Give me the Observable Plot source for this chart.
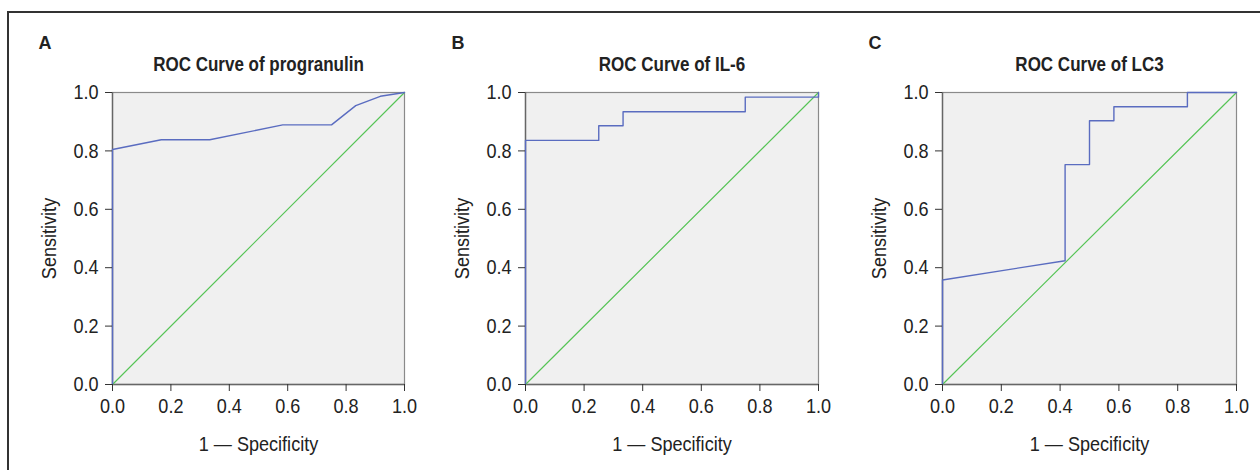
<!DOCTYPE html>
<html><head><meta charset="utf-8">
<script src="https://cdn.jsdelivr.net/npm/d3@7"></script>
<script src="https://cdn.jsdelivr.net/npm/@observablehq/plot@0.6"></script>
<style>
body{margin:0;background:#fff;}
#wrap{position:relative;width:1260px;height:470px;overflow:hidden;background:#fff;}
#border{position:absolute;left:7px;top:11px;width:1300px;height:500px;border-top:2px solid #333;border-left:2px solid #333;}
.panel{position:absolute;top:0;}
</style></head><body><div id="wrap"><div id="border"></div></div>
<script>
// ---- data ----
const ticks = [0, 0.2, 0.4, 0.6, 0.8, 1.0];
const panelLetters = ["A", "B", "C"];
const titles = ["ROC Curve of progranulin", "ROC Curve of IL-6", "ROC Curve of LC3"];
const xLabel = "1 \u2014 Specificity";
const yLabel = "Sensitivity";
const referenceLine = [0, 1];

const progranulinFPR = [0, 0, 0.167, 0.333, 0.583, 0.75, 0.833, 0.917, 1];
const progranulinTPR = [0, 0.805, 0.838, 0.838, 0.889, 0.889, 0.955, 0.987, 1];

const il6FPR = [0, 0, 0.25, 0.25, 0.333, 0.333, 0.75, 0.75, 1, 1];
const il6TPR = [0, 0.836, 0.836, 0.886, 0.886, 0.934, 0.934, 0.984, 0.984, 1];

const lc3FPR = [0, 0, 0.417, 0.417, 0.5, 0.5, 0.583, 0.583, 0.833, 0.833, 1];
const lc3TPR = [0, 0.358, 0.424, 0.753, 0.753, 0.903, 0.903, 0.951, 0.951, 1, 1];

const curves = [[progranulinFPR, progranulinTPR], [il6FPR, il6TPR], [lc3FPR, lc3TPR]];

// ---- layout ----
const FONT = '"Liberation Sans", Arial, sans-serif';
const NARROW = 0.86;       // emulate a condensed face for regular text
const NARROW_TITLE = 0.85; // and for the bold titles
const panelLeft = [0, 420, 840];
const mLeft = [112, 105, 102];
const mRight = [16, 22, 24];
const fmt = d3.format(".1f");
const wrap = document.getElementById("wrap");

curves.forEach(([fx, ty], i) => {
  const pts = fx.map((x, k) => ({x, y: ty[k]}));
  const diag = referenceLine.map(v => ({x: v, y: v}));
  const chart = Plot.plot({
    width: 420, height: 470,
    marginLeft: mLeft[i], marginRight: mRight[i], marginTop: 92, marginBottom: 86,
    style: {fontFamily: FONT, fontSize: "21px", background: "transparent", color: "#333"},
    x: {domain: [0, 1]},
    y: {domain: [0, 1]},
    marks: [
      Plot.frame({fill: "#f0f0f0", stroke: "#8a8a8a", strokeWidth: 1.2}),
      Plot.ruleX([0], {stroke: "#666", strokeWidth: 1.4}),
      Plot.ruleY([0], {stroke: "#666", strokeWidth: 1.4}),
      Plot.line(diag, {x: "x", y: "y", stroke: "#56c456", strokeWidth: 1.2}),
      Plot.line(pts, {x: "x", y: "y", stroke: "#5a6cc0", strokeWidth: 1.4}),
      Plot.axisX({ticks, tickFormat: fmt, tickSize: 7, tickPadding: 7, label: null, fill: "#222"}),
      Plot.axisY({ticks, tickFormat: fmt, tickSize: 7, tickPadding: 7, label: null, fill: "#222"}),
      Plot.text([titles[i]], {text: d => d, frameAnchor: "top", dy: -22, lineAnchor: "bottom", fontWeight: "bold", fontSize: 20, fill: "#222"}),
      Plot.text([panelLetters[i]], {text: d => d, frameAnchor: "top-left", dx: -74, dy: -44, lineAnchor: "bottom", textAnchor: "start", fontWeight: "bold", fontSize: 18, fill: "#222"}),
      Plot.text([xLabel], {text: d => d, frameAnchor: "bottom", dy: 66, lineAnchor: "bottom", fill: "#222"}),
      Plot.text([yLabel], {text: d => d, frameAnchor: "left", dx: -57, rotate: -90, lineAnchor: "bottom", textAnchor: "middle", fill: "#222"})
    ]
  });
  chart.classList.add("panel");
  chart.style.left = panelLeft[i] + "px";
  wrap.appendChild(chart);
  chart.querySelectorAll("text").forEach(t => {
    const s = t.textContent;
    if (panelLetters.includes(s)) return;
    const len = t.getComputedTextLength();
    if (len > 0) {
      const k = titles.includes(s) ? NARROW_TITLE : NARROW;
      t.setAttribute("textLength", (len * k).toFixed(2));
      t.setAttribute("lengthAdjust", "spacingAndGlyphs");
    }
  });
});
</script>
</body></html>
